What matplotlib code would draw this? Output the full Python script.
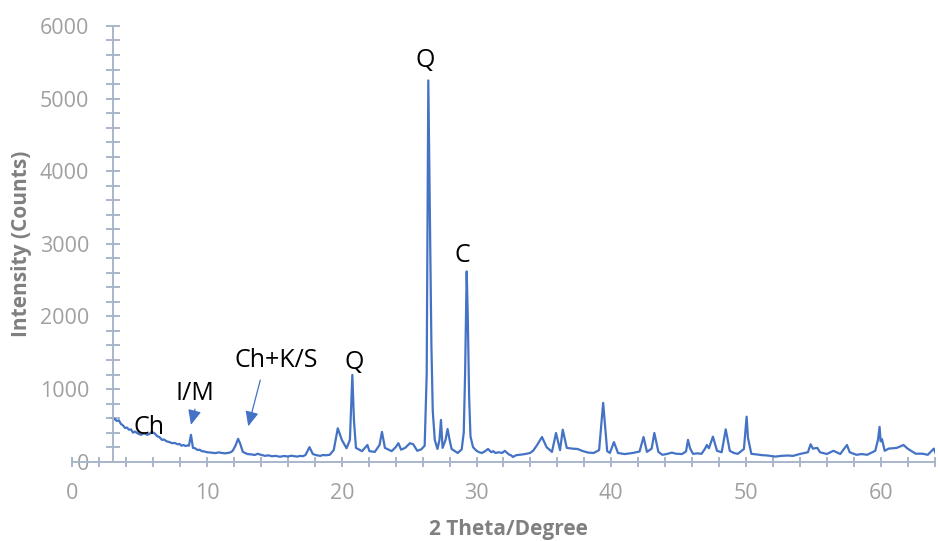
import numpy as np
import matplotlib.pyplot as plt
from matplotlib.ticker import MultipleLocator

plt.rcParams['font.family'] = ['Open Sans', 'DejaVu Sans']

# XRD pattern (2 theta in degrees, intensity in counts)
two_theta = [3.0, 3.15, 3.3, 3.45, 3.6, 3.75, 3.9, 4.05, 4.2, 4.35, 4.5, 4.65, 4.8, 4.95,
             5.1, 5.25, 5.4, 5.55, 5.7, 5.9, 6.1, 6.3, 6.45, 6.65, 6.8, 7.0, 7.2, 7.4,
             7.6, 7.8, 7.95, 8.1, 8.25, 8.4, 8.55, 8.65, 8.8, 8.95, 9.1, 9.3, 9.45, 9.6,
             9.8, 10.0, 10.3, 10.6, 10.85, 11.1, 11.3, 11.55, 11.75, 11.9, 12.1, 12.3,
             12.45, 12.65, 13.0, 13.3, 13.55, 13.75, 13.9, 14.1, 14.3, 14.55, 14.8, 15.1,
             15.4, 15.7, 16.0, 16.25, 16.5, 16.7, 16.9, 17.1, 17.3, 17.6, 17.85, 18.1,
             18.4, 18.6, 18.8, 19.1, 19.4, 19.7, 20.0, 20.35, 20.6,
             20.78, 20.9, 21.05, 21.5, 21.9, 22.05, 22.45, 22.8, 22.98, 23.2, 23.7, 24.0,
             24.2, 24.4, 24.7, 25.06, 25.3, 25.6, 25.9, 26.15, 26.3, 26.42, 26.5, 26.57,
             26.65, 26.75, 26.9, 27.1, 27.25, 27.36, 27.48, 27.7, 27.85, 28.0, 28.15,
             28.6, 28.9, 29.05, 29.15, 29.27, 29.35, 29.45, 29.55, 29.74, 30.0, 30.2,
             30.4, 30.6, 30.85, 31.1, 31.25, 31.4, 31.65, 31.9, 32.1, 32.4, 32.55, 32.7,
             32.95, 33.2, 33.6, 33.97, 34.2, 34.5, 34.86, 35.2,
             35.6, 35.9, 36.2, 36.4, 36.7, 37.1, 37.5, 37.9, 38.3, 38.7, 39.1, 39.4,
             39.7, 39.9, 40.2, 40.5, 41.0, 41.6, 42.1, 42.4, 42.65, 43.0, 43.2, 43.5,
             43.8, 44.1, 44.5, 44.8, 45.25, 45.55, 45.7, 45.85, 46.07, 46.4, 46.7, 46.95,
             47.1, 47.25, 47.55, 47.85, 48.2, 48.5, 48.8, 49.1, 49.4, 49.85, 50.05,
             50.15, 50.4, 50.8, 51.2, 51.6, 52.2, 52.6, 53.1, 53.5, 54.0, 54.6, 54.8,
             54.97, 55.3, 55.5, 56.0, 56.5, 57.0, 57.5, 57.7, 58.2, 58.6, 59.0, 59.6,
             59.8, 59.92, 60.0, 60.1, 60.3, 60.6, 61.2, 61.7,
             62.0, 62.6, 63.1, 63.5, 63.95, 64.1]
counts = [600, 585, 560, 570, 520, 500, 465, 470, 440, 445, 400, 415, 395, 380,
          370, 390, 385, 370, 380, 410, 390, 350, 340, 300, 305, 280, 270, 255,
          258, 240, 245, 220, 230, 215, 225, 220, 370, 190, 185, 160, 165, 145,
          140, 130, 125, 118, 128, 120, 115, 120, 130, 150, 220, 315,
          250, 135, 105, 100, 92, 110, 100, 90, 80, 88, 75, 80,
          68, 78, 72, 82, 75, 70, 80, 75, 92, 200, 105, 90,
          80, 92, 88, 95, 160, 460, 300, 185, 300,
          1195, 570, 190, 145, 230, 145, 135, 230, 410, 190, 145, 200,
          255, 165, 190, 255, 240, 150, 170, 220, 1200, 5250, 4000, 3000,
          1600, 700, 300, 175, 300, 575, 190, 300, 450, 300, 175,
          120, 170, 400, 1200, 2620, 2000, 900, 350, 200, 150, 130,
          120, 140, 175, 130, 145, 120, 130, 120, 150, 100, 90, 65,
          90, 95, 105, 120, 150, 230, 340, 200,
          135, 395, 160, 440, 190, 180, 175, 145, 125, 120, 160, 810,
          145, 120, 270, 120, 105, 120, 140, 340, 135, 180, 395, 135,
          95, 105, 125, 110, 105, 140, 300, 185, 108, 115, 108, 175,
          230, 185, 345, 150, 130, 445, 150, 120, 108, 175, 620,
          330, 108, 100, 90, 85, 70, 80, 85, 80, 106, 130, 240,
          180, 190, 130, 106, 150, 106, 230, 130, 95, 105, 95, 150,
          300, 480, 280, 310, 150, 180, 190, 230,
          180, 110, 110, 95, 180, 106]

# peak labels: text, text position, arrow start and target (None = plain text)
labels = ["Ch", "I/M", "Ch+K/S", "Q", "Q", "C"]
label_pos = [(5.7, 470), (9.1, 940), (15.1, 1390), (20.95, 1365), (26.2, 5530), (28.95, 2840)]
arrow_from = [None, (9.15, 760), (14.0, 1160), None, None, None]
arrow_to = [None, (8.75, 470), (13.0, 450), None, None, None]

blue = '#4472C4'
axis_col = '#A9B5C9'
tick_col = '#A0A0A0'
label_col = '#808080'

fig = plt.figure(figsize=(9.38, 5.41), dpi=100)
ax = fig.add_axes([0.0772, 0.1466, 0.9191, 0.8054])

ax.plot(two_theta, counts, color=blue, linewidth=1.6)

ax.set_xlim(0, 64)
ax.set_ylim(0, 6000)

for s in ['top', 'right']:
    ax.spines[s].set_visible(False)
ax.spines['left'].set_position(('data', 3))
for s in ['left', 'bottom']:
    ax.spines[s].set_color(axis_col)
    ax.spines[s].set_linewidth(1.4)

ax.xaxis.set_major_locator(MultipleLocator(10))
ax.xaxis.set_minor_locator(MultipleLocator(2))
ax.yaxis.set_major_locator(MultipleLocator(1000))
ax.yaxis.set_minor_locator(MultipleLocator(200))

ax.tick_params(axis='x', which='both', direction='inout', length=7, width=1.4,
               color=axis_col, labelcolor=tick_col, labelsize=15.5, pad=12)
ax.tick_params(axis='y', which='both', direction='inout', length=10, width=1.4,
               color=axis_col, labelcolor=tick_col, labelsize=15.5, pad=12)

ax.set_xlabel("2 Theta/Degree", fontsize=15, fontweight='bold', color=label_col)
ax.xaxis.set_label_coords(0.506, -0.132)
ax.set_ylabel("Intensity (Counts)", fontsize=15, fontweight='bold', color=label_col)
ax.yaxis.set_label_coords(-0.047, 0.5)

for i, txt in enumerate(labels):
    ax.text(label_pos[i][0], label_pos[i][1], txt, fontsize=18, color='black',
            ha='center', va='center')
    if arrow_from[i] is not None:
        ax.annotate("", xy=arrow_to[i], xytext=arrow_from[i],
                    arrowprops=dict(arrowstyle='-|>,head_length=0.9,head_width=0.4',
                                    color=blue, lw=0.9))

fig.savefig("out.png", dpi=100)
